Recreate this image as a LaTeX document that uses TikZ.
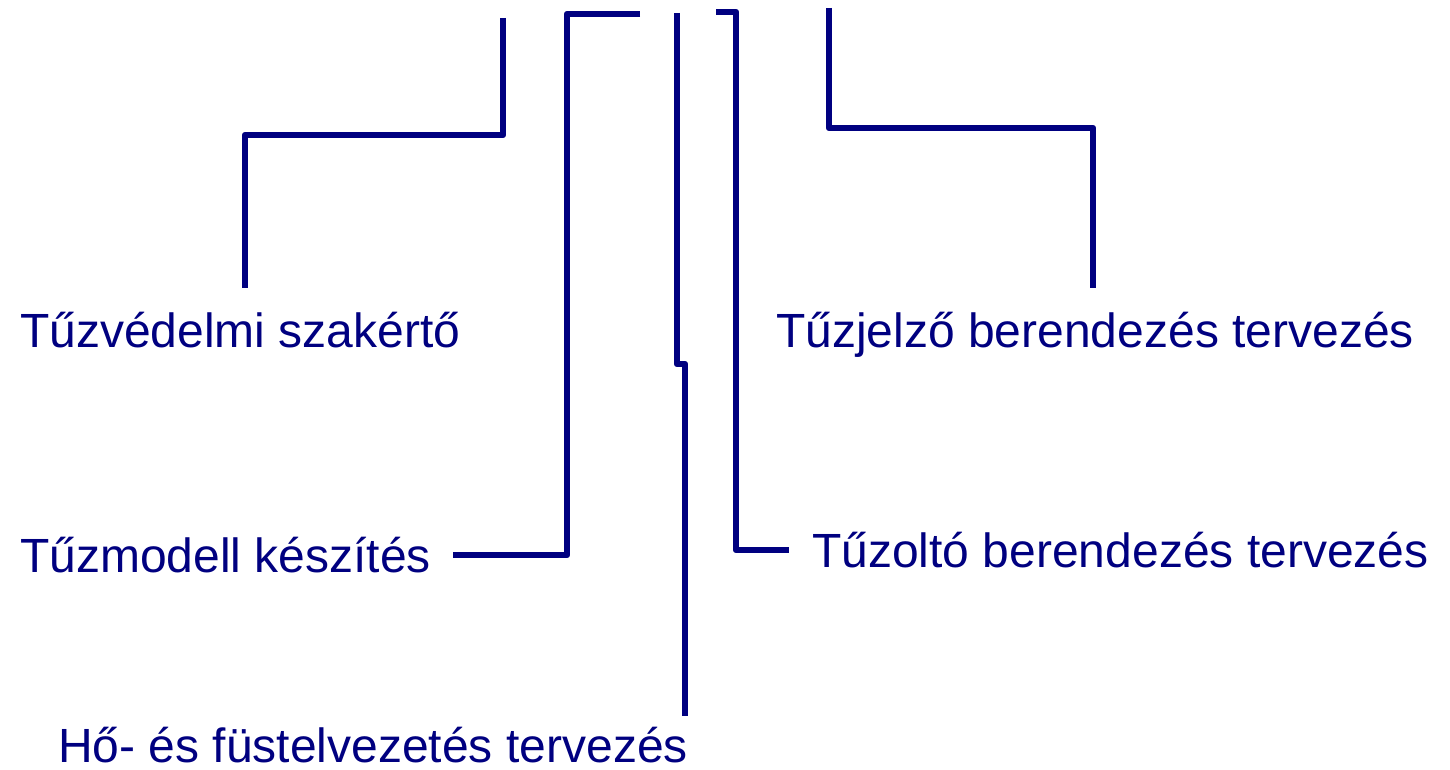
\documentclass[tikz,border=0pt]{standalone}
\usepackage{fontspec}
\setmainfont{Liberation Sans}
\definecolor{navy}{RGB}{0,0,128}
\begin{document}
\begin{tikzpicture}[x=1pt,y=-1pt,
  lbl/.style={anchor=base west,inner sep=0pt,text=navy,font=\fontsize{48}{54}\selectfont},
  conn/.style={draw=navy,line width=6.5pt,line join=round}]
\useasboundingbox (0,0) rectangle (1450,770);
\node[lbl] (szak) at (20,347) {Tűzvédelmi szakértő};
\node[lbl] (jelzo) at (776,347) {Tűzjelző berendezés tervezés};
\node[lbl] (modell) at (20,572) {Tűzmodell készítés};
\node[lbl] (olto) at (812,567) {Tűzoltó berendezés tervezés};
\node[lbl] (fust) at (58,762) {Hő- és füstelvezetés tervezés};
\coordinate (a1) at (503,18);
\coordinate (a2) at (245,288);
\coordinate (b1) at (640,14);
\coordinate (b2) at (453,555);
\coordinate (c1) at (677,13);
\coordinate (c2) at (685,716);
\coordinate (d1) at (716,12);
\coordinate (d2) at (789,550);
\coordinate (e1) at (829,8);
\coordinate (e2) at (1093,288);
\draw[conn] (a1) -- (503,135) -- (245,135) -- (a2);
\draw[conn] (b1) -- (567,14) -- (567,555) -- (b2);
\draw[conn] (c1) -- (677,364) -- (685,364) -- (c2);
\draw[conn] (d1) -- (736,12) -- (736,550) -- (d2);
\draw[conn] (e1) -- (829,128) -- (1093,128) -- (e2);
\end{tikzpicture}
\end{document}
